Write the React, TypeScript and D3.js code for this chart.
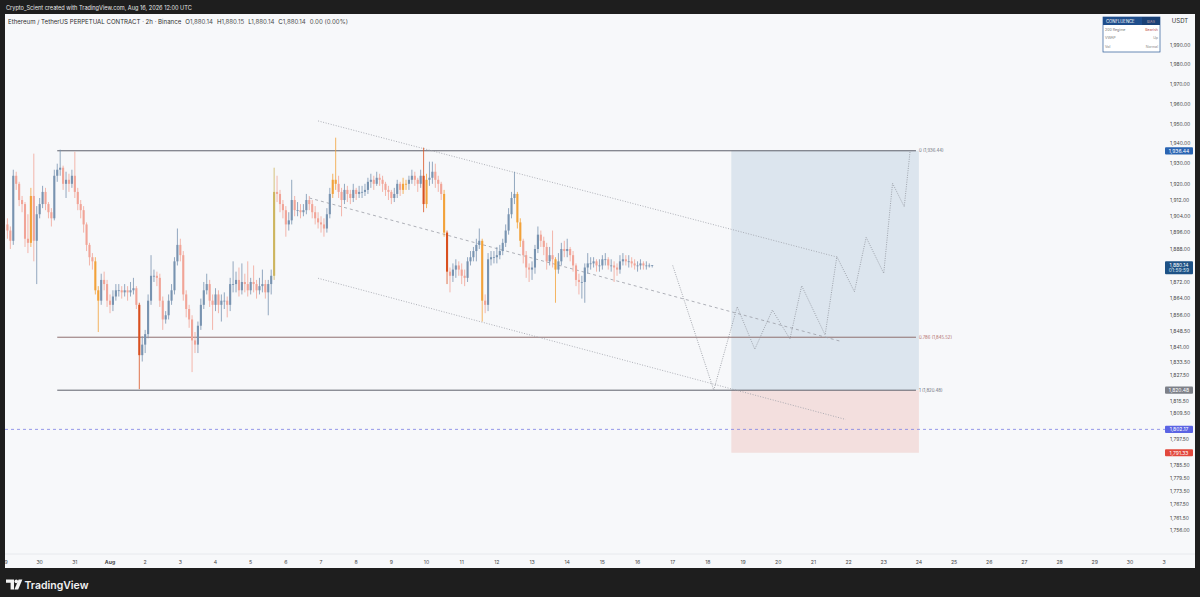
import React from "react";
import * as d3 from "d3";

const W = 1200;
const H = 597;

// ---------- DATA ----------
const startTime = Date.UTC(2026, 6, 29, 2); // first 2h bar: Jul 29 02:00 UTC
const barHours = 2;
const firstOpen = 1900;

const closes = [
  1897, 1892, 1924, 1920, 1912, 1910, 1893, 1891, 1914, 1892,
  1905, 1910, 1916, 1910, 1906, 1903, 1924, 1927, 1928, 1920,
  1922, 1920, 1924, 1916, 1910, 1907, 1900, 1890, 1884, 1882,
  1868, 1863, 1873, 1871, 1863, 1861, 1865, 1868, 1868, 1867,
  1868, 1867, 1868, 1869, 1861, 1837, 1842, 1847, 1863, 1875,
  1875, 1874, 1863, 1854, 1856, 1863, 1868, 1882, 1890, 1885,
  1866, 1859, 1854, 1844, 1842, 1851, 1861, 1868, 1871, 1863,
  1861, 1866, 1861, 1863, 1863, 1861, 1871, 1871, 1873, 1868,
  1872, 1871, 1868, 1872, 1871, 1868, 1870, 1871, 1867, 1871,
  1875, 1916, 1915, 1910, 1907, 1900, 1902, 1912, 1907, 1907,
  1906, 1907, 1912, 1910, 1906, 1903, 1901, 1900, 1898, 1905,
  1915, 1922, 1920, 1916, 1912, 1917, 1915, 1913, 1917, 1915, 1916,
  1916, 1917, 1921, 1922, 1920, 1923, 1922, 1920, 1917, 1916,
  1913, 1915, 1920, 1917, 1920, 1920, 1922, 1924, 1922, 1920,
  1924, 1910, 1922, 1923, 1926, 1922, 1920, 1915, 1896, 1877,
  1875, 1878, 1880, 1878, 1875, 1874, 1882, 1884, 1887, 1890, 1892,
  1863, 1861, 1883, 1884, 1884, 1885, 1887, 1891, 1897, 1905,
  1913, 1915, 1901, 1892, 1885, 1879, 1878, 1879, 1888, 1895,
  1892, 1889, 1882, 1885, 1883, 1878, 1882, 1888, 1887, 1888,
  1885, 1880, 1873, 1872, 1872, 1879, 1881, 1881, 1882, 1880, 1880,
  1883, 1883, 1880, 1880, 1879, 1878, 1882, 1883, 1882, 1882,
  1881, 1880, 1880, 1881, 1880, 1880, 1880, 1880.14,
];

const highs = [
  1903, 1899, 1927, 1926, 1921, 1914, 1911, 1905, 1918, 1935,
  1909, 1913, 1919, 1918, 1911, 1908, 1927, 1930, 1937, 1929,
  1926, 1925, 1927, 1936, 1918, 1912, 1909, 1901, 1891, 1886,
  1884, 1870, 1876, 1877, 1873, 1866, 1868, 1871, 1871, 1870,
  1871, 1870, 1872, 1874, 1870, 1862, 1846, 1849, 1866, 1885,
  1878, 1877, 1876, 1865, 1858, 1866, 1871, 1884, 1898, 1893,
  1887, 1868, 1861, 1856, 1848, 1853, 1864, 1872, 1876, 1873,
  1866, 1869, 1868, 1866, 1867, 1865, 1874, 1882, 1877, 1879,
  1881, 1876, 1882, 1874, 1880, 1873, 1874, 1878, 1873, 1873,
  1878, 1928, 1924, 1917, 1912, 1909, 1906, 1922, 1914, 1911,
  1910, 1910, 1915, 1914, 1912, 1909, 1906, 1904, 1903, 1908,
  1918, 1925, 1943, 1924, 1918, 1920, 1919, 1917, 1920, 1918, 1919,
  1919, 1920, 1923, 1925, 1924, 1926, 1925, 1924, 1921, 1919,
  1917, 1918, 1922, 1921, 1923, 1922, 1924, 1927, 1926, 1923,
  1927, 1938, 1925, 1931, 1931, 1930, 1924, 1921, 1917, 1897,
  1879, 1881, 1883, 1882, 1881, 1878, 1884, 1887, 1889, 1893, 1898,
  1893, 1866, 1886, 1887, 1887, 1889, 1890, 1893, 1900, 1908,
  1916, 1926, 1916, 1903, 1893, 1887, 1881, 1882, 1890, 1899,
  1897, 1894, 1891, 1889, 1897, 1884, 1886, 1891, 1892, 1893,
  1889, 1887, 1881, 1876, 1875, 1881, 1886, 1884, 1884, 1883, 1883,
  1885, 1886, 1884, 1883, 1882, 1881, 1885, 1886, 1885, 1885,
  1884, 1883, 1882, 1883, 1882, 1882, 1881, 1880.15,
];

const lows = [
  1893, 1888, 1890, 1917, 1909, 1906, 1889, 1886, 1889, 1882,
  1871, 1903, 1908, 1907, 1903, 1899, 1902, 1921, 1924, 1917,
  1913, 1916, 1918, 1913, 1907, 1903, 1896, 1887, 1880, 1878,
  1866, 1848, 1861, 1868, 1860, 1857, 1858, 1863, 1865, 1864,
  1865, 1863, 1865, 1866, 1859, 1821, 1834, 1838, 1845, 1861,
  1872, 1870, 1860, 1849, 1852, 1854, 1861, 1866, 1880, 1882,
  1863, 1855, 1850, 1829, 1838, 1838, 1849, 1859, 1866, 1860,
  1849, 1858, 1857, 1853, 1859, 1855, 1858, 1867, 1867, 1865,
  1866, 1867, 1865, 1866, 1867, 1864, 1866, 1867, 1864, 1856,
  1866, 1873, 1911, 1906, 1903, 1894, 1897, 1900, 1904, 1904,
  1903, 1904, 1905, 1907, 1903, 1900, 1898, 1896, 1894, 1896,
  1903, 1913, 1917, 1913, 1904, 1910, 1911, 1910, 1911, 1912, 1913,
  1913, 1914, 1915, 1918, 1917, 1919, 1919, 1916, 1914, 1912,
  1910, 1911, 1913, 1914, 1915, 1917, 1917, 1920, 1919, 1916,
  1918, 1906, 1908, 1919, 1920, 1918, 1916, 1912, 1894, 1871,
  1867, 1872, 1874, 1875, 1871, 1870, 1872, 1880, 1882, 1882, 1888,
  1853, 1857, 1858, 1880, 1881, 1881, 1883, 1885, 1889, 1895,
  1903, 1910, 1898, 1889, 1881, 1874, 1872, 1873, 1876, 1886,
  1889, 1885, 1878, 1880, 1879, 1862, 1876, 1880, 1884, 1884,
  1882, 1877, 1870, 1866, 1864, 1862, 1876, 1878, 1879, 1877, 1877,
  1878, 1880, 1878, 1877, 1872, 1875, 1876, 1880, 1880, 1879,
  1879, 1878, 1877, 1878, 1878, 1878, 1879, 1879,
];

// bars coloured by the confluence indicator
const orangeBars = [8, 30, 31, 111, 112, 135, 136, 143, 149, 162, 174, 175, 187];
const darkRedBars = [45, 142, 150];
const oliveBars = [91];

const priceTicks = [
  1990, 1980, 1970, 1960, 1950, 1940, 1930, 1920, 1912, 1904, 1896, 1888,
  1872, 1864, 1856, 1848.5, 1841, 1833.5, 1827.5, 1815.5, 1809.5, 1797.5,
  1785.5, 1779.5, 1773.5, 1767.5, 1761.5, 1756,
];

const dayLabels = [
  "29", "30", "31", "Aug", "2", "3", "4", "5", "6", "7", "8", "9", "10", "11",
  "12", "13", "14", "15", "16", "17", "18", "19", "20", "21", "22", "23", "24",
  "25", "26", "27", "28", "29", "30", "31",
];

// Fibonacci retracement
const fibLevels = ["0", "0.786", "1"];
const fibPrices = [1936.44, 1845.52, 1820.48];
const fibStart = Date.UTC(2026, 6, 30, 12);
const fibEnd = Date.UTC(2026, 7, 23, 22);

// Long position tool
const posStart = Date.UTC(2026, 7, 18, 16);
const posEnd = Date.UTC(2026, 7, 24, 0);
const posTarget = 1936.44;
const posEntry = 1820.48;
const posStop = 1791.33;

// Descending channel
const channelUpper: [number, number][] = [
  [Date.UTC(2026, 7, 6, 22), 1951.4],
  [Date.UTC(2026, 7, 21, 16), 1884.1],
];
const channelMid: [number, number][] = [
  [Date.UTC(2026, 7, 6, 16), 1913.0],
  [Date.UTC(2026, 7, 21, 18), 1843.7],
];
const channelLower: [number, number][] = [
  [Date.UTC(2026, 7, 6, 22), 1873.8],
  [Date.UTC(2026, 7, 21, 22), 1806.8],
];

// Projected path
const projection: [number, number][] = [
  [Date.UTC(2026, 7, 17, 0), 1880.0],
  [Date.UTC(2026, 7, 18, 4), 1820.5],
  [Date.UTC(2026, 7, 18, 20), 1860.1],
  [Date.UTC(2026, 7, 19, 8), 1839.8],
  [Date.UTC(2026, 7, 19, 20), 1858.5],
  [Date.UTC(2026, 7, 20, 8), 1844.7],
  [Date.UTC(2026, 7, 20, 16), 1870.2],
  [Date.UTC(2026, 7, 21, 8), 1846.6],
  [Date.UTC(2026, 7, 21, 16), 1884.3],
  [Date.UTC(2026, 7, 22, 4), 1867.3],
  [Date.UTC(2026, 7, 22, 12), 1893.7],
  [Date.UTC(2026, 7, 23, 0), 1876.2],
  [Date.UTC(2026, 7, 23, 6), 1920.3],
  [Date.UTC(2026, 7, 23, 14), 1908.7],
  [Date.UTC(2026, 7, 23, 18), 1936.4],
];

const alertPrice = 1802.17;
const lastPrice = 1880.14;
const countdown = "01:59:59";

const confluenceRows = [
  ["200 Regime", "Bearish"],
  ["VWAP", "Up"],
  ["Vol", "Normal"],
];

const headerTitle = "Ethereum / TetherUS PERPETUAL CONTRACT · 2h · Binance";
const headerOHLC = [
  ["O", "1,880.14"],
  ["H", "1,880.15"],
  ["L", "1,880.14"],
  ["C", "1,880.14"],
];
const headerChange = "0.00 (0.00%)";
const creditLine = "Crypto_Scient created with TradingView.com, Aug 16, 2026 12:00 UTC";

// ---------- STYLE ----------
const FONT = "Inter, 'Noto Sans', 'DejaVu Sans', sans-serif";
const C = {
  frame: "#1e1e1e",
  panel: "#f7f8fa",
  up: "#7893b0",
  down: "#f1a497",
  orange: "#f2a23a",
  darkRed: "#d9501f",
  olive: "#cdb55e",
  axisText: "#4a4a4a",
  fib: "#5d606b",
  fib786: "#8f6f6f",
  target: "#dce5ee",
  stop: "#f3dfde",
  channel: "#9a9da6",
  alert: "#7d82e4",
};

const fmt = d3.format(",.2f");

export default function App() {
  const x = d3
    .scaleUtc()
    .domain([new Date(Date.UTC(2026, 6, 29)), new Date(Date.UTC(2026, 8, 1))])
    .range([4.49, 1200.27]);
  const y = d3.scaleLog().domain([1756, 1990]).range([530, 45]);

  const plotLeft = 5;
  const plotRight = 1166;
  const plotTop = 14;
  const plotBottom = 554;

  const bars = closes.map((c, i) => {
    const o = i === 0 ? firstOpen : closes[i - 1];
    return {
      i,
      t: new Date(startTime + i * barHours * 3600 * 1000),
      o,
      c,
      h: Math.max(highs[i], o, c),
      l: Math.min(lows[i], o, c),
    };
  });

  const barColor = (b: { i: number; o: number; c: number }) => {
    if (oliveBars.includes(b.i)) return C.olive;
    if (darkRedBars.includes(b.i)) return C.darkRed;
    if (orangeBars.includes(b.i)) return C.orange;
    return b.c >= b.o ? C.up : C.down;
  };

  const line = d3
    .line<[number, number]>()
    .x((d) => x(new Date(d[0])))
    .y((d) => y(d[1]));

  const dayDates = dayLabels.map((_, i) => new Date(Date.UTC(2026, 6, 29 + i)));

  const axisX = 1170;
  const badge = (price: number, color: string, text: string, key: string) => (
    <g key={key}>
      <rect x={1165} y={y(price) - 3.6} width={28} height={7.2} rx={1} fill={color} />
      <text x={1179} y={y(price) + 1.8} fontSize={5} fill="#fff" textAnchor="middle" fontFamily={FONT}>
        {text}
      </text>
    </g>
  );

  return (
    <svg
      width={W}
      height={H}
      viewBox={`0 0 ${W} ${H}`}
      style={{ position: "fixed", left: 0, top: 0, display: "block" }}
    >
      <defs>
        <clipPath id="plotClip">
          <rect x={plotLeft} y={plotTop} width={plotRight - plotLeft} height={plotBottom - plotTop} />
        </clipPath>
        <clipPath id="xAxisClip">
          <rect x={plotLeft} y={plotBottom} width={plotRight - plotLeft} height={14} />
        </clipPath>
      </defs>

      <rect x={0} y={0} width={W} height={H} fill={C.frame} />
      <rect x={5} y={14} width={1190} height={554} fill={C.panel} />

      {/* credit line */}
      <text x={6} y={10} fontSize={5.6} fill="#e6e6e6" fontFamily={FONT}>
        {creditLine}
      </text>

      {/* x axis separator */}
      <line x1={5} x2={1195} y1={plotBottom} y2={plotBottom} stroke="#e3e5ea" strokeWidth={0.8} />

      <g clipPath="url(#plotClip)">
        {/* position tool */}
        <rect
          x={x(new Date(posStart))}
          y={y(posTarget)}
          width={x(new Date(posEnd)) - x(new Date(posStart))}
          height={y(posEntry) - y(posTarget)}
          fill={C.target}
        />
        <rect
          x={x(new Date(posStart))}
          y={y(posEntry)}
          width={x(new Date(posEnd)) - x(new Date(posStart))}
          height={y(posStop) - y(posEntry)}
          fill={C.stop}
        />

        {/* alert line */}
        <line
          x1={plotLeft}
          x2={plotRight}
          y1={y(alertPrice)}
          y2={y(alertPrice)}
          stroke={C.alert}
          strokeWidth={0.8}
          strokeDasharray="3,3"
        />

        {/* fib lines */}
        {fibPrices.map((p, k) => (
          <line
            key={"fib" + k}
            x1={x(new Date(fibStart))}
            x2={x(new Date(fibEnd))}
            y1={y(p)}
            y2={y(p)}
            stroke={k === 1 ? C.fib786 : C.fib}
            strokeWidth={1}
          />
        ))}

        {/* channel */}
        <path d={line(channelUpper) || ""} fill="none" stroke={C.channel} strokeWidth={0.8} strokeDasharray="1,1.6" />
        <path d={line(channelLower) || ""} fill="none" stroke={C.channel} strokeWidth={0.8} strokeDasharray="1,1.6" />
        <path d={line(channelMid) || ""} fill="none" stroke={C.channel} strokeWidth={0.8} strokeDasharray="3,3" />

        {/* projection */}
        <path d={line(projection) || ""} fill="none" stroke="#8e929b" strokeWidth={0.8} strokeDasharray="1,1.3" />

        {/* candles */}
        {bars.map((b) => {
          const cx = x(b.t);
          const col = barColor(b);
          const top = y(Math.max(b.o, b.c));
          const bot = y(Math.min(b.o, b.c));
          return (
            <g key={b.i}>
              <line x1={cx} x2={cx} y1={y(b.h)} y2={y(b.l)} stroke={col} strokeWidth={0.8} />
              <rect x={cx - 1.05} y={top} width={2.1} height={Math.max(0.8, bot - top)} fill={col} />
            </g>
          );
        })}
      </g>

      {/* fib labels */}
      {fibPrices.map((p, k) => (
        <text
          key={"fl" + k}
          x={x(new Date(fibEnd)) + 3}
          y={y(p) + 1.5}
          fontSize={4.3}
          fill={k === 1 ? "#b06a66" : "#6b6e78"}
          fontFamily={FONT}
        >
          {`${fibLevels[k]} (${fmt(p)})`}
        </text>
      ))}

      {/* header */}
      <text x={8} y={23.5} fontSize={6.1} fill="#2f2f2f" fontFamily={FONT}>
        {headerTitle}
        {headerOHLC.map(([k, v]) => (
          <tspan key={k}>
            <tspan dx={4} fill="#2f2f2f">{k}</tspan>
            <tspan fill="#505050">{v}</tspan>
          </tspan>
        ))}
        <tspan dx={4} fill="#505050">{headerChange}</tspan>
      </text>

      {/* price axis */}
      <text x={1180} y={23} fontSize={6} fill="#333" textAnchor="middle" fontFamily={FONT}>
        USDT
      </text>
      {priceTicks.map((p) => (
        <text key={p} x={axisX} y={y(p) + 1.8} fontSize={5} fill={C.axisText} fontFamily={FONT}>
          {fmt(p)}
        </text>
      ))}
      {badge(posTarget, "#2a64b2", fmt(posTarget), "b1")}
      {badge(posEntry, "#7d8088", fmt(posEntry), "b2")}
      {badge(alertPrice, "#5b64e4", fmt(alertPrice), "b3")}
      {badge(posStop, "#e2483d", fmt(posStop), "b4")}
      <g>
        <rect x={1165} y={y(lastPrice) - 4} width={28} height={13} rx={1} fill="#1d5185" />
        <text x={1179} y={y(lastPrice) + 1.6} fontSize={5} fill="#fff" textAnchor="middle" fontFamily={FONT}>
          {fmt(lastPrice)}
        </text>
        <text x={1179} y={y(lastPrice) + 7.2} fontSize={5} fill="#dbe6f3" textAnchor="middle" fontFamily={FONT}>
          {countdown}
        </text>
      </g>

      {/* x axis labels */}
      <g clipPath="url(#xAxisClip)">
        {dayDates.map((d, i) => (
          <text
            key={i}
            x={x(d)}
            y={563.5}
            fontSize={5.2}
            fill={C.axisText}
            textAnchor="middle"
            fontWeight={dayLabels[i] === "Aug" ? 700 : 400}
            fontFamily={FONT}
          >
            {dayLabels[i]}
          </text>
        ))}
      </g>

      {/* confluence table */}
      <g fontFamily={FONT}>
        <rect x={1103} y={17} width={57} height={35} fill="#ffffff" stroke="#2a5a96" strokeWidth={0.7} />
        <rect x={1103} y={17} width={39} height={8} fill="#1f4e8c" />
        <rect x={1142} y={17} width={18} height={8} fill="#1a4176" />
        <text x={1106} y={23} fontSize={4.2} fill="#fff">CONFLUENCE</text>
        <text x={1151} y={23} fontSize={3.5} fill="#c7a0a8" textAnchor="middle">BIAS</text>
        {confluenceRows.map(([k, v], r) => (
          <g key={k}>
            <text x={1105} y={30.5 + r * 8.5} fontSize={3.6} fill="#777">{k}</text>
            <text
              x={1158}
              y={30.5 + r * 8.5}
              fontSize={3.6}
              fill={r === 0 ? "#c0504d" : "#888"}
              textAnchor="end"
            >
              {v}
            </text>
          </g>
        ))}
      </g>

      {/* TradingView logo */}
      <g fill="#f2f2f2">
        <path d="M6 579.5 H14 V589.5 H10.6 V582.7 H6 Z" />
        <circle cx={16.3} cy={581.4} r={1.8} />
        <path d="M18.6 579.5 H22.4 L18.2 589.5 H14.4 Z" />
        <text x={24.5} y={589} fontSize={10.5} fontWeight={600} fontFamily={FONT}>
          TradingView
        </text>
      </g>
    </svg>
  );
}
